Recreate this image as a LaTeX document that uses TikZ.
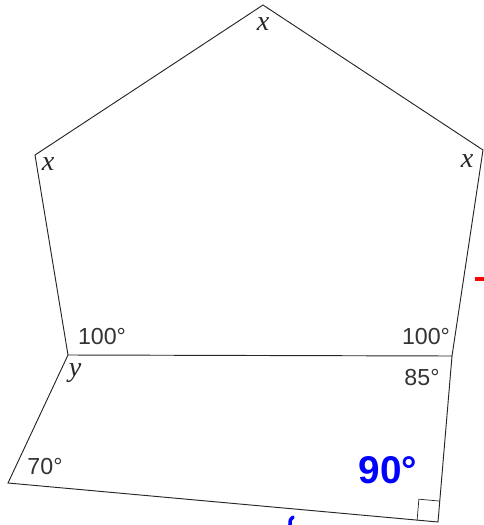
\documentclass[tikz,border=0pt]{standalone}
\usepackage{fontspec}
\setmainfont{Liberation Serif}
\setsansfont{Liberation Sans}
\usetikzlibrary{calc}
\tikzset{
  figlines/.style={line width=0.8pt, draw=black!85, line join=miter},
  figrect/.style={line width=0.6pt, draw=black!85},
  figvar/.style={draw=none, fill=none, text=black!85, font=\fontsize{24}{24}\selectfont\itshape, inner sep=0pt},
  figdeg/.style={draw=none, fill=none, text=black!80, font=\fontsize{19.8}{21}\selectfont\sffamily, inner sep=0pt},
  figpen/.style={draw=none, fill=none, text=blue, font=\fontsize{33}{33}\selectfont\sffamily\bfseries, inner sep=0pt},
  penblue/.style={draw=blue, line width=3pt, line cap=round},
  penred/.style={draw=red, line width=2.8pt},
}

\begin{document}
\begin{tikzpicture}[x=0.03cm, y=-0.03cm]
\useasboundingbox (0,0) rectangle (484,525);
% corners of the pentagon and the quadrilateral
\coordinate (top) at (263,5);
\coordinate (pl) at (35,155);
\coordinate (pr) at (483,150);
\coordinate (pbl) at (68,355);
\coordinate (pbr) at (452,356);
\coordinate (qbl) at (8,483);
\coordinate (qbr) at (438,522);
\draw[figlines] (pbl) -- (pl) -- (top) -- (pr) -- (pbr) -- cycle;
\draw[figlines] (pbl) -- (qbl) -- (qbr) -- (pbr);
% right angle
\coordinate (ra) at ($(qbr)!0.0486!(qbl)$);
\coordinate (rb) at ($(qbr)!0.126!(pbr)$);
\draw[figrect] (ra) -- ($(ra)+(rb)-(qbr)$) -- (rb);
% angle labels
\node[figvar] (xtop) at (263,24) {x};
\node[figvar] (xleft) at (48,164) {x};
\node[figvar] (xright) at (467,161) {x};
\node[figvar] (ybot) at (75,373) {y};
\node[figdeg] (al) at (102,337) {100°};
\node[figdeg] (ar) at (426,337) {100°};
\node[figdeg] (ad) at (422,378) {85°};
\node[figdeg] (aq) at (45,467) {70°};
% pen marks
\node[figpen] (pen) at (388,470) {90°};
\draw[penred] (475,279) -- (484,279);
\draw[penblue] (293,517) .. controls (290,520) .. (290,525);
\end{tikzpicture}
\end{document}
